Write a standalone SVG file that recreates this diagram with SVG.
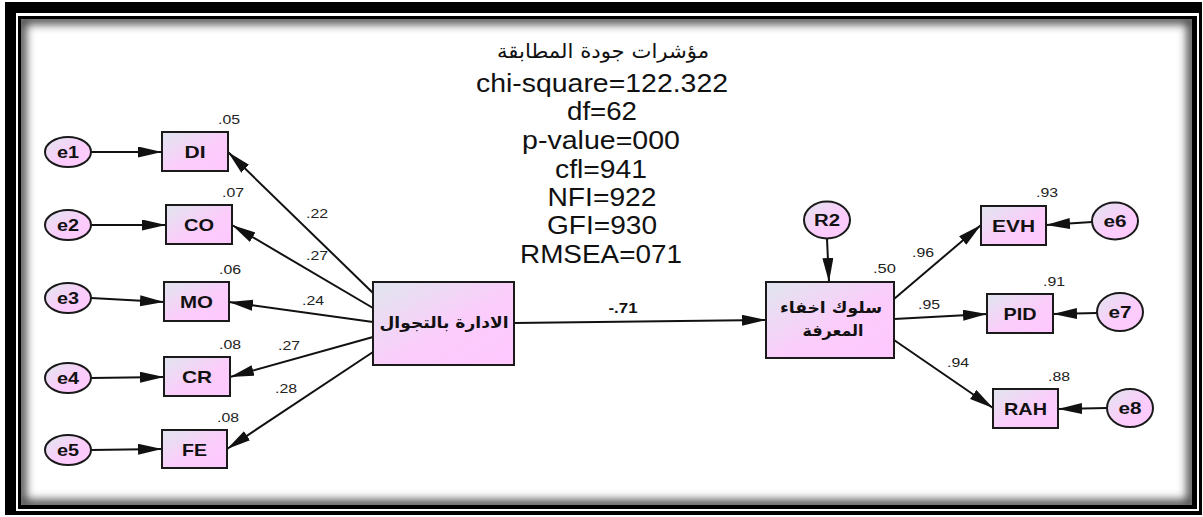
<svg xmlns="http://www.w3.org/2000/svg" width="1203" height="517" viewBox="0 0 1203 517">
<style>
.box{stroke:#1a1a1a;stroke-width:2;fill:url(#g)}
.ell{stroke:#1a1a1a;stroke-width:2;fill:url(#g)}
.nt{font-family:"Liberation Sans",Arial,sans-serif;font-weight:bold;font-size:17px;fill:#111;text-anchor:middle}
.et{font-family:"Liberation Sans",Arial,sans-serif;font-weight:bold;font-size:16px;fill:#111;text-anchor:middle}
.ar{font-family:"DejaVu Sans","Noto Sans Arabic",sans-serif;font-weight:bold;font-size:16px;fill:#111;text-anchor:middle}
.num{font-family:"Liberation Sans",Arial,sans-serif;font-size:13.5px;fill:#222}
.fit{font-family:"Liberation Sans",Arial,sans-serif;font-size:25px;fill:#111;text-anchor:middle}
.fitar{font-family:"DejaVu Sans","Noto Sans Arabic",sans-serif;font-size:20px;fill:#111;text-anchor:middle}
.c line{stroke:#111;stroke-width:2;marker-end:url(#ah)}
</style>
<defs>
<linearGradient id="g" x1="0" y1="0" x2="1" y2="1">
<stop offset="0" stop-color="#e0e6ee"/>
<stop offset="0.55" stop-color="#fbcdfb"/>
<stop offset="1" stop-color="#ffc8ff"/>
</linearGradient>
<marker id="ah" markerUnits="userSpaceOnUse" markerWidth="26" markerHeight="12" refX="24" refY="5.5" orient="auto">
<path d="M0,0 L24,5.5 L0,11 z" fill="#111"/>
</marker>
<clipPath id="inner"><rect x="21" y="19" width="1171" height="486"/></clipPath>
<filter id="blur" x="-5%" y="-5%" width="110%" height="110%"><feGaussianBlur stdDeviation="5"/></filter>
</defs>
<rect width="1203" height="517" fill="#fff"/>
<g id="frame">
<path d="M5,2 H1202 V515 H5 Z M16,13 V511 H1199 V13 Z" fill="#000" fill-rule="evenodd"/>
<path d="M18,16 H1197 V509 H18 Z M21,19 V505 H1192 V19 Z" fill="#000" fill-rule="evenodd"/>
<g clip-path="url(#inner)">
<rect x="21" y="19" width="1171" height="486" fill="none" stroke="#000" stroke-width="10" stroke-opacity="0.75" filter="url(#blur)"/>
</g>
</g>
<g id="fit-indices">
<text class="fitar" x="603" y="58" textLength="212" lengthAdjust="spacingAndGlyphs">مؤشرات جودة المطابقة</text>
<text class="fit" x="602" y="92" textLength="252" lengthAdjust="spacingAndGlyphs">chi-square=122.322</text>
<text class="fit" x="602" y="120" textLength="70" lengthAdjust="spacingAndGlyphs">df=62</text>
<text class="fit" x="601" y="149" textLength="158" lengthAdjust="spacingAndGlyphs">p-value=000</text>
<text class="fit" x="601" y="178" textLength="92" lengthAdjust="spacingAndGlyphs">cfl=941</text>
<text class="fit" x="602" y="206" textLength="109" lengthAdjust="spacingAndGlyphs">NFI=922</text>
<text class="fit" x="602" y="234" textLength="110" lengthAdjust="spacingAndGlyphs">GFI=930</text>
<text class="fit" x="601" y="263" textLength="162" lengthAdjust="spacingAndGlyphs">RMSEA=071</text>
</g>
<g class="c" id="connectors">
<line x1="91" y1="152" x2="162" y2="152"/>
<line x1="91" y1="225" x2="166" y2="225"/>
<line x1="91" y1="298" x2="164" y2="302"/>
<line x1="91" y1="378" x2="164" y2="377"/>
<line x1="91" y1="450" x2="162" y2="449"/>
<line x1="373" y1="293" x2="228" y2="152"/>
<line x1="373" y1="308" x2="232" y2="225"/>
<line x1="373" y1="322" x2="229" y2="302"/>
<line x1="373" y1="337" x2="230" y2="377"/>
<line x1="373" y1="352" x2="227" y2="449"/>
<line x1="514" y1="323" x2="766" y2="320"/>
<line x1="827" y1="239" x2="829" y2="282"/>
<line x1="894" y1="299" x2="981" y2="225"/>
<line x1="894" y1="319" x2="987" y2="314"/>
<line x1="894" y1="340" x2="993" y2="408"/>
<line x1="1092" y1="222" x2="1046" y2="225"/>
<line x1="1097" y1="313" x2="1053" y2="314"/>
<line x1="1107" y1="408" x2="1058" y2="409"/>
</g>
<g id="labels">
<text class="num" x="306" y="218" textLength="22" lengthAdjust="spacingAndGlyphs">.22</text>
<text class="num" x="306" y="260" textLength="22" lengthAdjust="spacingAndGlyphs">.27</text>
<text class="num" x="302" y="305" textLength="22" lengthAdjust="spacingAndGlyphs">.24</text>
<text class="num" x="278" y="350" textLength="22" lengthAdjust="spacingAndGlyphs">.27</text>
<text class="num" x="275" y="393" textLength="22" lengthAdjust="spacingAndGlyphs">.28</text>
<text x="623" y="313" text-anchor="middle" textLength="29" lengthAdjust="spacingAndGlyphs" style="font-family:'Liberation Sans',Arial,sans-serif;font-weight:bold;font-size:14px;fill:#111">-.71</text>
<text class="num" x="912" y="257" textLength="22" lengthAdjust="spacingAndGlyphs">.96</text>
<text class="num" x="918" y="309" textLength="22" lengthAdjust="spacingAndGlyphs">.95</text>
<text class="num" x="947" y="367" textLength="22" lengthAdjust="spacingAndGlyphs">.94</text>
</g>
<g id="e1"><ellipse class="ell" cx="68" cy="152" rx="23" ry="15"/><text class="et" x="68" y="158" textLength="22" lengthAdjust="spacingAndGlyphs">e1</text></g>
<g id="e2"><ellipse class="ell" cx="68" cy="225" rx="23" ry="15"/><text class="et" x="68" y="231" textLength="22" lengthAdjust="spacingAndGlyphs">e2</text></g>
<g id="e3"><ellipse class="ell" cx="68" cy="298" rx="23" ry="15"/><text class="et" x="68" y="304" textLength="22" lengthAdjust="spacingAndGlyphs">e3</text></g>
<g id="e4"><ellipse class="ell" cx="68" cy="378" rx="23" ry="15"/><text class="et" x="68" y="384" textLength="22" lengthAdjust="spacingAndGlyphs">e4</text></g>
<g id="e5"><ellipse class="ell" cx="68" cy="450" rx="23" ry="15"/><text class="et" x="68" y="456" textLength="22" lengthAdjust="spacingAndGlyphs">e5</text></g>
<g id="DI"><rect class="box" x="162" y="132" width="66" height="39"/><text class="nt" x="195" y="158" textLength="21" lengthAdjust="spacingAndGlyphs">DI</text><text class="num" x="218" y="124" textLength="22" lengthAdjust="spacingAndGlyphs">.05</text></g>
<g id="CO"><rect class="box" x="166" y="205" width="66" height="39"/><text class="nt" x="199" y="231" textLength="30" lengthAdjust="spacingAndGlyphs">CO</text><text class="num" x="222" y="197" textLength="22" lengthAdjust="spacingAndGlyphs">.07</text></g>
<g id="MO"><rect class="box" x="164" y="282" width="65" height="39"/><text class="nt" x="196.5" y="308" textLength="33" lengthAdjust="spacingAndGlyphs">MO</text><text class="num" x="219" y="274" textLength="22" lengthAdjust="spacingAndGlyphs">.06</text></g>
<g id="CR"><rect class="box" x="164" y="357" width="66" height="39"/><text class="nt" x="197" y="383" textLength="30" lengthAdjust="spacingAndGlyphs">CR</text><text class="num" x="219" y="349" textLength="22" lengthAdjust="spacingAndGlyphs">.08</text></g>
<g id="FE"><rect class="box" x="162" y="430" width="65" height="38"/><text class="nt" x="194.5" y="456" textLength="25" lengthAdjust="spacingAndGlyphs">FE</text><text class="num" x="217" y="422" textLength="22" lengthAdjust="spacingAndGlyphs">.08</text></g>
<g id="management"><rect class="box" x="373" y="282" width="141" height="83"/><text class="ar" x="444" y="328" textLength="129" lengthAdjust="spacingAndGlyphs">الادارة بالتجوال</text></g>
<g id="knowledge-hiding"><rect class="box" x="766" y="282" width="128" height="76"/><text class="ar" x="831" y="313" textLength="102" lengthAdjust="spacingAndGlyphs">سلوك اخفاء</text><text class="ar" x="833" y="336" textLength="61" lengthAdjust="spacingAndGlyphs">المعرفة</text><text class="num" x="873" y="273" textLength="23" lengthAdjust="spacingAndGlyphs">.50</text></g>
<g id="R2"><ellipse class="ell" cx="827" cy="220" rx="23" ry="18.5"/><text class="et" x="827" y="226" textLength="26" lengthAdjust="spacingAndGlyphs">R2</text></g>
<g id="EVH"><rect class="box" x="981" y="206" width="65" height="39"/><text class="nt" x="1013.5" y="232" textLength="43" lengthAdjust="spacingAndGlyphs">EVH</text><text class="num" x="1036" y="197" textLength="22" lengthAdjust="spacingAndGlyphs">.93</text></g>
<g id="PID"><rect class="box" x="987" y="294" width="66" height="39"/><text class="nt" x="1020" y="320" textLength="33" lengthAdjust="spacingAndGlyphs">PID</text><text class="num" x="1043" y="286" textLength="22" lengthAdjust="spacingAndGlyphs">.91</text></g>
<g id="RAH"><rect class="box" x="993" y="389" width="65" height="39"/><text class="nt" x="1025.5" y="415" textLength="43" lengthAdjust="spacingAndGlyphs">RAH</text><text class="num" x="1048" y="381" textLength="22" lengthAdjust="spacingAndGlyphs">.88</text></g>
<g id="e6"><ellipse class="ell" cx="1115" cy="221" rx="23" ry="18.5"/><text class="et" x="1115" y="227" textLength="23" lengthAdjust="spacingAndGlyphs">e6</text></g>
<g id="e7"><ellipse class="ell" cx="1120" cy="312" rx="23" ry="19"/><text class="et" x="1120" y="318" textLength="23" lengthAdjust="spacingAndGlyphs">e7</text></g>
<g id="e8"><ellipse class="ell" cx="1130" cy="408" rx="23" ry="19"/><text class="et" x="1130" y="414" textLength="23" lengthAdjust="spacingAndGlyphs">e8</text></g>
</svg>
